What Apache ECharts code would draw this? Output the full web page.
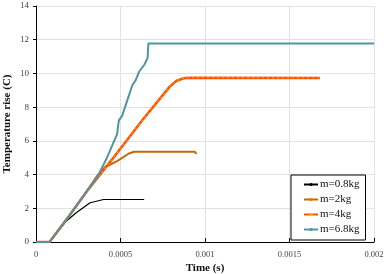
<!DOCTYPE html>
<html>
<head>
<meta charset="utf-8">
<script src="https://cdn.jsdelivr.net/npm/echarts@6/dist/echarts.min.js"></script>
<style>
  html, body { margin: 0; padding: 0; background: #fff; }
  #main { width: 389px; height: 274px; }
</style>
</head>
<body>
<div id="main"></div>
<script>
// time (s) and temperature rise (C) per mass
var t08 = [0, 0.00008, 0.00018, 0.00024, 0.00032, 0.0004, 0.00064];
var T08 = [0, 0, 1.25, 1.75, 2.33, 2.52, 2.52];

var t2 = [0, 0.00008, 0.0002, 0.0003, 0.00036, 0.00041, 0.00048, 0.00055, 0.00058, 0.00094, 0.00095];
var T2 = [0, 0, 1.6, 3.0, 3.9, 4.45, 4.8, 5.25, 5.35, 5.35, 5.22];

var t4 = [0, 0.00008, 0.0002, 0.0003, 0.00045, 0.00063, 0.00079, 0.00083, 0.00087, 0.0009, 0.00168];
var T4 = [0, 0, 1.6, 3.0, 4.9, 7.24, 9.2, 9.55, 9.7, 9.75, 9.73];

var t68 = [0, 0.00008, 0.0002, 0.0003, 0.00036, 0.00042, 0.00048, 0.00049, 0.00051, 0.00054, 0.00057, 0.00059, 0.00061, 0.00064, 0.00066, 0.000665, 0.002];
var T68 = [0, 0, 1.6, 3.0, 3.8, 5.0, 6.4, 7.2, 7.5, 8.4, 9.3, 9.6, 10.1, 10.5, 10.9, 11.78, 11.78];

var names = ['m=0.8kg', 'm=2kg', 'm=4kg', 'm=6.8kg'];
var xTicks = ['0', '0.0005', '0.001', '0.0015', '0.002'];

function pairs(xs, ys) {
  return xs.map(function (x, i) { return [x, ys[i]]; });
}

var font = 'Liberation Serif';
var chart = echarts.init(document.getElementById('main'), null, { renderer: 'canvas' });

var option = {
  animation: false,
  grid: { left: 36, right: 15, top: 6, bottom: 32, containLabel: false, outerBoundsMode: 'none' },
  legend: {
    data: names,
    orient: 'vertical',
    left: 291,
    top: 175,
    padding: [4, 6, 5, 12],
    itemGap: 4,
    itemWidth: 14,
    itemHeight: 4,
    backgroundColor: '#fff',
    borderColor: '#000',
    borderWidth: 1,
    textStyle: { fontFamily: font, fontSize: 11, color: '#111', padding: [0, 0, 0, -3] }
  },
  xAxis: {
    type: 'value',
    min: 0,
    max: 0.002,
    interval: 0.0005,
    name: 'Time (s)',
    nameLocation: 'middle',
    nameGap: 21,
    nameMoveOverlap: false,
    nameTextStyle: { fontFamily: font, fontSize: 11, fontWeight: 'bold', color: '#111' },
    axisLine: { lineStyle: { color: '#000', width: 1 } },
    axisTick: { inside: true, length: 4, lineStyle: { color: '#000' } },
    axisLabel: {
      fontFamily: font, fontSize: 8.5, color: '#444', margin: 8,
      formatter: function (v) { return xTicks[Math.round(v / 0.0005)]; }
    },
    splitLine: { show: true, lineStyle: { color: '#e2e2e2', width: 1 } }
  },
  yAxis: {
    type: 'value',
    min: 0,
    max: 14,
    interval: 2,
    name: 'Temperature rise (C)',
    nameLocation: 'middle',
    nameGap: 23,
    nameMoveOverlap: false,
    nameTextStyle: { fontFamily: font, fontSize: 11, fontWeight: 'bold', color: '#111' },
    axisLine: { show: true, lineStyle: { color: '#000', width: 1 } },
    axisTick: { show: true, inside: false, length: 3, lineStyle: { color: '#000' } },
    axisLabel: { fontFamily: font, fontSize: 9, color: '#444', margin: 7 },
    splitLine: { show: true, lineStyle: { color: '#e2e2e2', width: 1 } }
  },
  series: [
    {
      name: names[0], type: 'line', data: pairs(t08, T08),
      showSymbol: false, symbol: 'none',
      lineStyle: { color: '#000', width: 1.2 }, itemStyle: { color: '#000' }
    },
    {
      name: names[1], type: 'line', data: pairs(t2, T2),
      showSymbol: false, symbol: 'circle', symbolSize: 3,
      lineStyle: { color: '#c8640a', width: 2 }, itemStyle: { color: '#e07a10' }
    },
    {
      name: names[2], type: 'line', data: pairs(t4, T4),
      showSymbol: false, symbol: 'circle', symbolSize: 3,
      lineStyle: { color: '#ff5000', width: 2.5 }, itemStyle: { color: '#ffb000' }
    },
    {
      name: 'm4dots', type: 'line', data: pairs(t4, T4),
      showSymbol: false, symbol: 'none', silent: true,
      lineStyle: { color: '#ffb300', width: 1, type: [2, 3] }
    },
    {
      name: names[3], type: 'line', data: pairs(t68, T68),
      showSymbol: false, symbol: 'circle', symbolSize: 2,
      lineStyle: { color: '#4f96a0', width: 2 }, itemStyle: { color: '#4f96a0' }
    }
  ]
};
chart.setOption(option);
</script>
</body>
</html>
